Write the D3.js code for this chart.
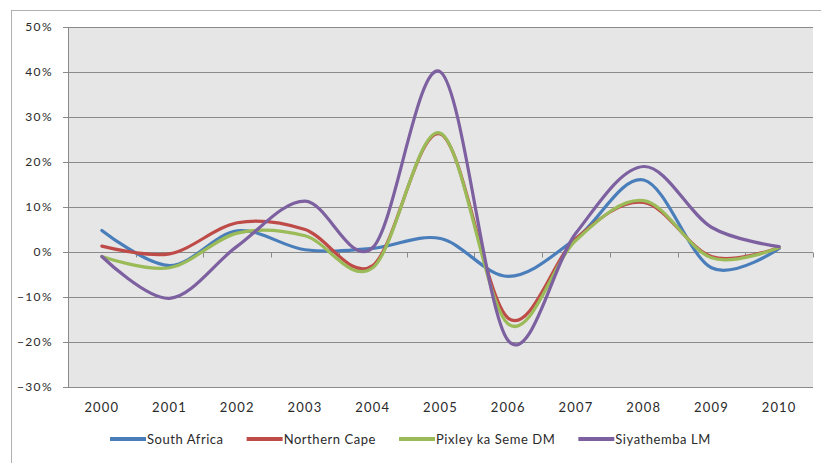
<!DOCTYPE html>
<html>
<head>
<meta charset="utf-8">
<script src="https://cdn.jsdelivr.net/npm/d3@7"></script>
<style>
  html, body { margin: 0; padding: 0; background: #ffffff; }
  svg { display: block; }
  text { font-family: Lato, "Liberation Sans", sans-serif; fill: #2a2a2a; }
</style>
</head>
<body>
<svg id="chart" width="821" height="463"></svg>
<script>
// Annual growth rates, 2000–2010
const years = ["2000","2001","2002","2003","2004","2005","2006","2007","2008","2009","2010"];
const southAfrica  = [0.048, -0.030, 0.047, 0.005, 0.008, 0.030, -0.054, 0.030, 0.160, -0.035, 0.008];
const northernCape = [0.013, -0.004, 0.065, 0.050, -0.030, 0.262, -0.147, 0.030, 0.110, -0.010, 0.010];
const pixleyKaSeme = [-0.010, -0.035, 0.042, 0.036, -0.035, 0.264, -0.160, 0.026, 0.114, -0.013, 0.010];
const siyathemba   = [-0.010, -0.103, 0.013, 0.113, 0.010, 0.400, -0.197, 0.042, 0.190, 0.055, 0.012];
const seriesNames  = ["South Africa", "Northern Cape", "Pixley ka Seme DM", "Siyathemba LM"];
const seriesColors = ["#4a7ebb", "#be4b48", "#9bbb59", "#7d60a0"];
const yTicks = [-0.3, -0.2, -0.1, 0, 0.1, 0.2, 0.3, 0.4, 0.5];

const seriesData = [southAfrica, northernCape, pixleyKaSeme, siyathemba];

const svg = d3.select("#chart");
const margin = { left: 68, right: 8, top: 27, bottom: 76 };
const W = 821, H = 463;
const plotW = W - margin.left - margin.right;
const plotH = H - margin.top - margin.bottom;

// Outer chart frame (top and left edges)
svg.append("line").attr("x1", 11).attr("x2", W).attr("y1", 10.5).attr("y2", 10.5)
  .attr("stroke", "#b0b0b0").attr("stroke-width", 1);
svg.append("line").attr("x1", 11.5).attr("x2", 11.5).attr("y1", 10).attr("y2", H)
  .attr("stroke", "#b0b0b0").attr("stroke-width", 1);

const g = svg.append("g").attr("transform", `translate(${margin.left},${margin.top})`);

const x = d3.scaleBand().domain(years).range([0, plotW]);
const y = d3.scaleLinear().domain([-0.3, 0.5]).range([plotH, 0]);

// Plot area background
g.append("rect").attr("x", 0).attr("y", 0).attr("width", plotW).attr("height", plotH)
  .attr("fill", "#e6e6e6");

// Horizontal gridlines
g.append("g").selectAll("line").data(yTicks).join("line")
  .attr("x1", 0).attr("x2", plotW)
  .attr("y1", d => Math.round(y(d)) + 0.5).attr("y2", d => Math.round(y(d)) + 0.5)
  .attr("stroke", "#8a8a8a").attr("stroke-width", 1);

// Value axis
const yAxis = g.append("g").call(
  d3.axisLeft(y).tickValues(yTicks).tickFormat(d3.format(".0%")).tickSize(5).tickPadding(10)
);
yAxis.select(".domain").attr("stroke", "#8a8a8a");
yAxis.selectAll(".tick line").attr("stroke", "#8a8a8a");
yAxis.selectAll("text").attr("font-size", 12).attr("fill", "#2a2a2a")
  .attr("letter-spacing", 1.4)
  .attr("font-family", "Lato, 'Liberation Sans', sans-serif");

// Category axis crossing at 0%, with tick marks on category boundaries
const y0 = Math.round(y(0)) + 0.5;
g.append("g").selectAll("line").data(years.slice(1).concat(["end"])).join("line")
  .attr("x1", (d, i) => Math.round(x.step() * (i + 1)) + 0.5)
  .attr("x2", (d, i) => Math.round(x.step() * (i + 1)) + 0.5)
  .attr("y1", y0).attr("y2", y0 + 5)
  .attr("stroke", "#8a8a8a");

// Category labels below the plot
g.append("g").selectAll("text").data(years).join("text")
  .attr("x", d => x(d) + x.bandwidth() / 2)
  .attr("y", plotH + 25)
  .attr("text-anchor", "middle")
  .attr("font-size", 13)
  .attr("letter-spacing", 1.2)
  .text(d => d);

// Smoothed lines
const line = d3.line()
  .x((d, i) => x(years[i]) + x.bandwidth() / 2)
  .y(d => y(d))
  .curve(d3.curveCatmullRom.alpha(0));

g.append("g").selectAll("path").data(seriesData).join("path")
  .attr("d", d => line(d))
  .attr("fill", "none")
  .attr("stroke", (d, i) => seriesColors[i])
  .attr("stroke-width", 3.2)
  .attr("stroke-linejoin", "round")
  .attr("stroke-linecap", "round");

// Legend along the bottom
const legend = svg.append("g").attr("transform", "translate(110,439)");
let lx = 0;
seriesNames.forEach((name, i) => {
  const item = legend.append("g").attr("transform", `translate(${lx},0)`);
  item.append("line").attr("x1", 0).attr("x2", 36).attr("y1", 0).attr("y2", 0)
    .attr("stroke", seriesColors[i]).attr("stroke-width", 4);
  const t = item.append("text").attr("x", 37).attr("y", 4.5)
    .attr("font-size", 13).attr("letter-spacing", 0.55).text(name);
  lx += 37 + t.node().getComputedTextLength() + 23;
});
</script>
</body>
</html>
